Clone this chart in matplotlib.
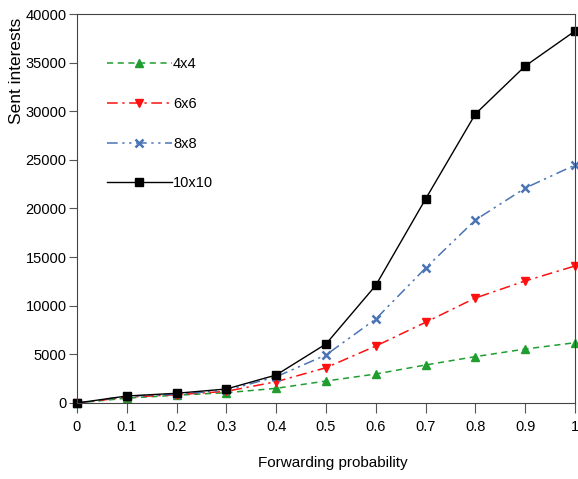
import matplotlib
matplotlib.use("Agg")
import matplotlib.pyplot as plt

plt.rcParams['font.family'] = ['Liberation Sans', 'DejaVu Sans']

prob = [0, 0.1, 0.2, 0.3, 0.4, 0.5, 0.6, 0.7, 0.8, 0.9, 1.0]
grid_4x4 = [0, 500, 800, 1060, 1510, 2260, 2980, 3910, 4770, 5550, 6200]
grid_6x6 = [0, 600, 850, 1200, 2190, 3630, 5860, 8300, 10800, 12550, 14090]
grid_8x8 = [0, 700, 900, 1300, 2700, 4940, 8640, 13880, 18820, 22100, 24470]
grid_10x10 = [0, 720, 1000, 1440, 2880, 6070, 12100, 20980, 29720, 34650, 38250]

x_ticks = [0, 0.1, 0.2, 0.3, 0.4, 0.5, 0.6, 0.7, 0.8, 0.9, 1]
x_labels = ["0", "0.1", "0.2", "0.3", "0.4", "0.5", "0.6", "0.7", "0.8", "0.9", "1"]
y_ticks = [0, 5000, 10000, 15000, 20000, 25000, 30000, 35000, 40000]

fig = plt.figure(figsize=(5.78, 4.79), dpi=100)
ax = fig.add_axes([77 / 578, 1 - 403 / 479, (575 - 77) / 578, (403 - 14) / 479])

ax.plot(prob, grid_4x4, color='#1f9e2f', linestyle=(0, (4, 3)), lw=1.1,
        marker='^', ms=6, label='4x4', clip_on=False)
ax.plot(prob, grid_6x6, color='#ff1010', linestyle=(0, (7, 3, 1.5, 3)), lw=1.1,
        marker='v', ms=6, label='6x6', clip_on=False)
ax.plot(prob, grid_8x8, color='#4a74b4', linestyle=(0, (7, 3, 1.5, 3, 1.5, 3)), lw=1.1,
        marker='x', ms=6, mew=1.8, label='8x8', clip_on=False)
ax.plot(prob, grid_10x10, color='black', linestyle='-', lw=1.0,
        marker='s', ms=6, label='10x10', clip_on=False)

ax.set_xlim(0, 1)
ax.set_ylim(0, 40000)
ax.set_xticks(x_ticks)
ax.set_xticklabels(x_labels)
ax.set_yticks(y_ticks)
ax.tick_params(labelsize=10.5, direction='out', color='#555555')
ax.tick_params(axis='x', length=7, pad=5)
ax.tick_params(axis='y', length=6, pad=1.5)
for s in ax.spines.values():
    s.set_color('#444444')

ax.set_xlabel("Forwarding probability", fontsize=11)
ax.set_ylabel("Sent interests", fontsize=12.5)
ax.xaxis.set_label_coords(0.514, -0.135)
ax.yaxis.set_label_coords(-0.107, 0.855)

ax.legend(loc='upper left', bbox_to_anchor=(0.033, 0.922), frameon=False,
          handlelength=4.5, handletextpad=0.05, labelspacing=1.76, fontsize=10.5)

fig.savefig("out.png", dpi=100)
